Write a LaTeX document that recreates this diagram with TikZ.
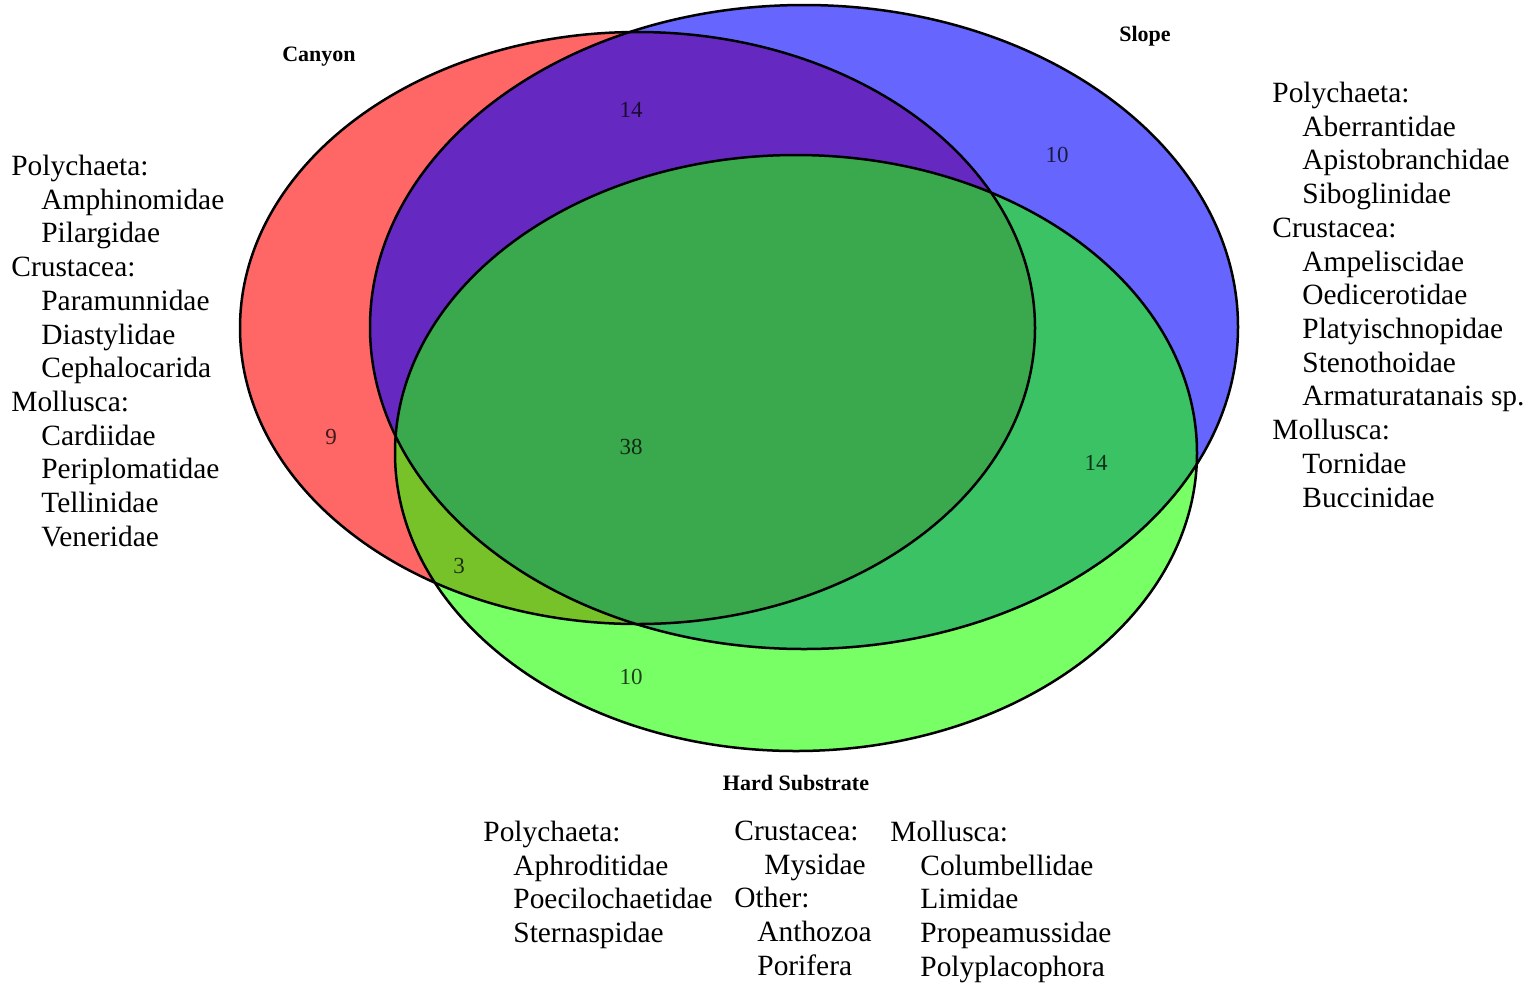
\documentclass[tikz,border=0pt]{standalone}
\usepackage{fontspec}
\setmainfont{Liberation Serif}
\usepackage{xcolor}
\usepackage{tikz}
\definecolor{canyonRed}{RGB}{255,0,0}
\definecolor{slopeBlue}{RGB}{0,0,255}
\definecolor{hardGreen}{RGB}{30,255,0}
\newcommand{\taxind}{\hspace*{15pt}}
\tikzset{
  setfill/.style={fill=#1, fill opacity=0.6, draw=none},
  setline/.style={draw=black, line width=1.25pt},
  setlabel/.style={font=\fontsize{11}{12}\selectfont\bfseries, inner sep=0pt},
  countlabel/.style={font=\fontsize{11.5}{13}\selectfont, text=black, text opacity=0.75, inner sep=0pt},
  taxalist/.style={font=\fontsize{14.7}{16.87}\selectfont, align=left, anchor=north west, inner sep=0pt},
}

\begin{document}
\begin{tikzpicture}[x=0.5pt,y=-0.5pt]
  \useasboundingbox (0,0) rectangle (1532,987);

  % ---------- set fills ----------
  \path[setfill=canyonRed] (637.5,328) ellipse [x radius=198.75pt, y radius=148pt];
  \path[setfill=slopeBlue] (804,327) ellipse [x radius=217pt, y radius=161pt];
  \path[setfill=hardGreen] (796,453) ellipse [x radius=200.5pt, y radius=149pt];

  % ---------- set outlines ----------
  \draw[setline] (637.5,328) ellipse [x radius=198.75pt, y radius=148pt];
  \draw[setline] (804,327) ellipse [x radius=217pt, y radius=161pt];
  \draw[setline] (796,453) ellipse [x radius=200.5pt, y radius=149pt];

  % ---------- set names ----------
  \node[setlabel] (canyon) at (319,57)  {Canyon};
  \node[setlabel] (slope)  at (1145,36) {Slope};
  \node[setlabel] (hard)   at (796,783) {Hard Substrate};

  % ---------- counts ----------
  \node[countlabel] (cs)  at (631,110)  {14};
  \node[countlabel] (s)   at (1057,155) {10};
  \node[countlabel] (c)   at (331,437)  {9};
  \node[countlabel] (csh) at (631,447)  {38};
  \node[countlabel] (sh)  at (1096,463) {14};
  \node[countlabel] (ch)  at (459,566)  {3};
  \node[countlabel] (h)   at (631,677)  {10};

  % ---------- taxa lists ----------
  \node[taxalist] (canyonlist) at (11,154.5) {Polychaeta:\\ \taxind Amphinomidae\\ \taxind Pilargidae\\
    Crustacea:\\ \taxind Paramunnidae\\ \taxind Diastylidae\\ \taxind Cephalocarida\\
    Mollusca:\\ \taxind Cardiidae\\ \taxind Periplomatidae\\ \taxind Tellinidae\\ \taxind Veneridae};

  \node[taxalist] (slopelist) at (1272,81.5) {Polychaeta:\\ \taxind Aberrantidae\\ \taxind Apistobranchidae\\ \taxind Siboglinidae\\
    Crustacea:\\ \taxind Ampeliscidae\\ \taxind Oedicerotidae\\ \taxind Platyischnopidae\\ \taxind Stenothoidae\\ \taxind Armaturatanais sp.\\
    Mollusca:\\ \taxind Tornidae\\ \taxind Buccinidae};

  \node[taxalist] (hardpoly) at (483,820.5) {Polychaeta:\\ \taxind Aphroditidae\\ \taxind Poecilochaetidae\\ \taxind Sternaspidae};
  \node[taxalist] (hardcrus) at (734,820.5) {Crustacea:\\ \taxind Mysidae\\ Other:\\ \hspace*{11.5pt}Anthozoa\\ \hspace*{11.5pt}Porifera};
  \node[taxalist] (hardmoll) at (890,820.5) {Mollusca:\\ \taxind Columbellidae\\ \taxind Limidae\\ \taxind Propeamussidae\\ \taxind Polyplacophora};

\end{tikzpicture}
\end{document}
